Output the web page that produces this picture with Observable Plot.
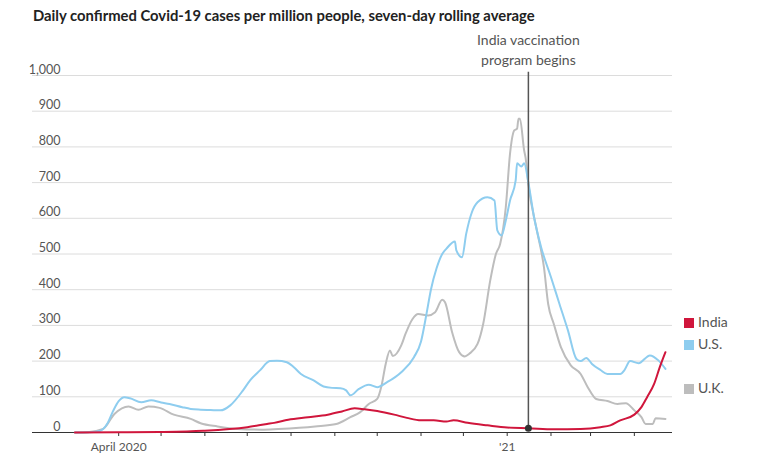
<!DOCTYPE html>
<html><head><meta charset="utf-8">
<script src="https://cdn.jsdelivr.net/npm/d3@7"></script>
<script src="https://cdn.jsdelivr.net/npm/@observablehq/plot@0.6"></script>
<style>
body{margin:0;background:#fff;font-family:Lato,"Open Sans",sans-serif;}
#wrap{position:relative;width:765px;height:470px;overflow:hidden;}
#title{position:absolute;left:33px;top:6px;font-weight:bold;font-size:14.8px;line-height:18px;color:#222;white-space:nowrap;}
#chart{position:absolute;left:0;top:30px;}
.leg{position:absolute;left:684px;font-size:14px;line-height:16px;color:#555;white-space:nowrap;}
.leg span{display:inline-block;width:10px;height:10px;margin-right:4px;vertical-align:-1px;}
</style></head>
<body>
<div id="wrap">
  <div id="title">Daily confirmed Covid-19 cases per million people, seven-day rolling average</div>
  <div id="chart"></div>
</div>
<script>
// ---- data ----
const countries = ["U.K.", "U.S.", "India"];
const colors = ["#bdbdbd", "#8ecdef", "#d0163c"];
const legendOrder = ["India", "U.S.", "U.K."];
const legendTops = [321.7, 344.3, 388.3];

const usDates = ["2020-03-01","2020-03-12","2020-03-19","2020-03-24","2020-03-28","2020-04-01","2020-04-05","2020-04-09","2020-04-17","2020-04-24","2020-05-01","2020-05-07","2020-05-16","2020-05-22","2020-05-29","2020-06-05","2020-06-12","2020-06-19","2020-06-28","2020-07-03","2020-07-10","2020-07-17","2020-07-22","2020-07-29","2020-08-03","2020-08-08","2020-08-17","2020-08-24","2020-08-30","2020-09-05","2020-09-09","2020-09-12","2020-09-18","2020-09-25","2020-10-01","2020-10-08","2020-10-18","2020-10-27","2020-11-01","2020-11-05","2020-11-08","2020-11-12","2020-11-16","2020-11-19","2020-11-25","2020-11-26","2020-11-30","2020-12-03","2020-12-07","2020-12-11","2020-12-18","2020-12-23","2020-12-25","2020-12-28","2020-12-31","2021-01-03","2021-01-07","2021-01-08","2021-01-11","2021-01-13","2021-01-16","2021-01-20","2021-01-25","2021-02-01","2021-02-07","2021-02-13","2021-02-19","2021-02-22","2021-02-26","2021-03-02","2021-03-08","2021-03-13","2021-03-22","2021-03-25","2021-03-29","2021-04-04","2021-04-12","2021-04-18","2021-04-23"];
const usValues = [0,1,5,25,60,88,99,96,85,90,84,80,71,66,64,63,62,76,118,146,174,200,201,197,183,164,146,129,125,124,118,104,122,134,127,141,169,211,255,335,400,460,500,515,535,510,491,557,617,645,659,650,566,552,594,650,706,754,745,754,700,603,519,435,360,286,206,200,209,192,175,164,164,175,200,194,216,202,178];

const ukDates = ["2020-03-01","2020-03-10","2020-03-21","2020-03-29","2020-04-08","2020-04-15","2020-04-22","2020-04-30","2020-05-10","2020-05-22","2020-05-29","2020-06-10","2020-06-24","2020-07-11","2020-07-23","2020-08-18","2020-09-02","2020-09-12","2020-09-19","2020-09-25","2020-10-01","2020-10-04","2020-10-07","2020-10-10","2020-10-12","2020-10-18","2020-10-21","2020-10-26","2020-10-30","2020-11-06","2020-11-11","2020-11-16","2020-11-18","2020-11-23","2020-11-28","2020-12-02","2020-12-05","2020-12-11","2020-12-15","2020-12-20","2020-12-24","2020-12-27","2020-12-31","2021-01-03","2021-01-06","2021-01-08","2021-01-09","2021-01-10","2021-01-13","2021-01-14","2021-01-16","2021-01-22","2021-01-27","2021-01-30","2021-02-03","2021-02-08","2021-02-15","2021-02-22","2021-02-27","2021-03-05","2021-03-13","2021-03-20","2021-03-26","2021-04-01","2021-04-06","2021-04-09","2021-04-14","2021-04-16","2021-04-23"];
const ukValues = [0,1,10,52,73,64,73,69,50,38,26,17,10,8,10,17,24,43,57,80,94,130,192,230,214,244,276,318,332,328,337,372,365,281,225,213,220,248,304,426,500,528,631,781,846,851,879,879,790,770,695,566,463,360,304,239,188,164,127,94,88,80,82,62,43,24,24,40,38];

const indiaDates = ["2020-03-01","2020-04-01","2020-04-30","2020-05-31","2020-07-01","2020-07-15","2020-07-20","2020-07-30","2020-08-13","2020-08-27","2020-09-06","2020-09-15","2020-09-22","2020-10-01","2020-10-13","2020-10-22","2020-11-01","2020-11-10","2020-11-19","2020-11-24","2020-12-04","2020-12-18","2021-01-01","2021-01-16","2021-02-03","2021-02-22","2021-03-08","2021-03-15","2021-03-22","2021-04-01","2021-04-06","2021-04-10","2021-04-15","2021-04-19","2021-04-23"];
const indiaValues = [0,0.5,1.5,5,15,24,27,36,43,50,59,68,65,60,50,41,34,34,31,34,27,20,14,12,9,10,15,20,34,50,71,99,136,183,225];

const yTicks = [0,100,200,300,400,500,600,700,800,900,1000];
const xTickDates = ["2020-04-01","2020-05-01","2020-06-01","2020-07-01","2020-08-01","2020-09-01","2020-10-01","2020-11-01","2020-12-01","2021-01-01","2021-02-01","2021-03-01","2021-04-01"];
const xTickLabels = ["April 2020","","","","","","","","","'21","","",""];
const xDomain = ["2020-01-31","2021-04-28"];
const vaxDate = "2021-01-16";
const vaxIndiaValue = 12;
const vaxText = "India vaccination\nprogram begins";

// ---- build ----
const rows = [];
const add = (c, ds, vs) => ds.forEach((d, i) => rows.push({country: c, date: new Date(d), value: vs[i]}));
add("U.K.", ukDates, ukValues);
add("U.S.", usDates, usValues);
add("India", indiaDates, indiaValues);

const xt = xTickDates.map(d => new Date(d));
const labelOf = new Map(xTickDates.map((d, i) => [new Date(d).getTime(), xTickLabels[i]]));
const vax = new Date(vaxDate);

const chart = Plot.plot({
  width: 765, height: 440,
  marginLeft: 32, marginRight: 93, marginTop: 45, marginBottom: 38,
  style: {fontFamily: "Lato, 'Open Sans', sans-serif", fontSize: "12px", color: "#555", background: "#fff"},
  x: {type: "utc", domain: xDomain.map(d => new Date(d))},
  y: {domain: [0, 1000]},
  color: {domain: countries, range: colors},
  marks: [
    Plot.gridY(yTicks.filter(d => d > 0), {stroke: "#dcdcdc", strokeOpacity: 1}),
    Plot.axisY(yTicks, {tickSize: 0, textAnchor: "end", dx: 37, dy: -6, tickFormat: d3.format(","), label: null, fill: "#555", fontSize: 12.5}),
    Plot.ruleY([0], {stroke: "#333", strokeWidth: 1.2}),
    Plot.axisX(xt, {tickSize: 4, tickPadding: 6, stroke: "#333", fill: "#555", fontSize: 12, label: null, tickFormat: d => labelOf.get(d.getTime()) ?? ""}),
    Plot.line(rows, {x: "date", y: "value", z: "country", stroke: "country", strokeWidth: 2, curve: "monotone-x"}),
    Plot.ruleX([vax], {y1: vaxIndiaValue, y2: 1009, stroke: "#555", strokeWidth: 1.5}),
    Plot.dot([vax], {x: d => d, y: vaxIndiaValue, r: 3.5, fill: "#333", stroke: "none"}),
    Plot.text([vax], {x: d => d, frameAnchor: "top", text: () => vaxText, lineAnchor: "bottom", dy: -11, fontSize: 14, fill: "#555", lineHeight: 1.38})
  ]
});
document.getElementById("chart").appendChild(chart);

// legend
const wrap = document.getElementById("wrap");
legendOrder.forEach((name, i) => {
  const div = document.createElement("div");
  div.className = "leg";
  div.style.top = (legendTops[i] - 8) + "px";
  div.innerHTML = `<span style="background:${colors[countries.indexOf(name)]}"></span>${name}`;
  wrap.appendChild(div);
});
</script>
</body></html>
